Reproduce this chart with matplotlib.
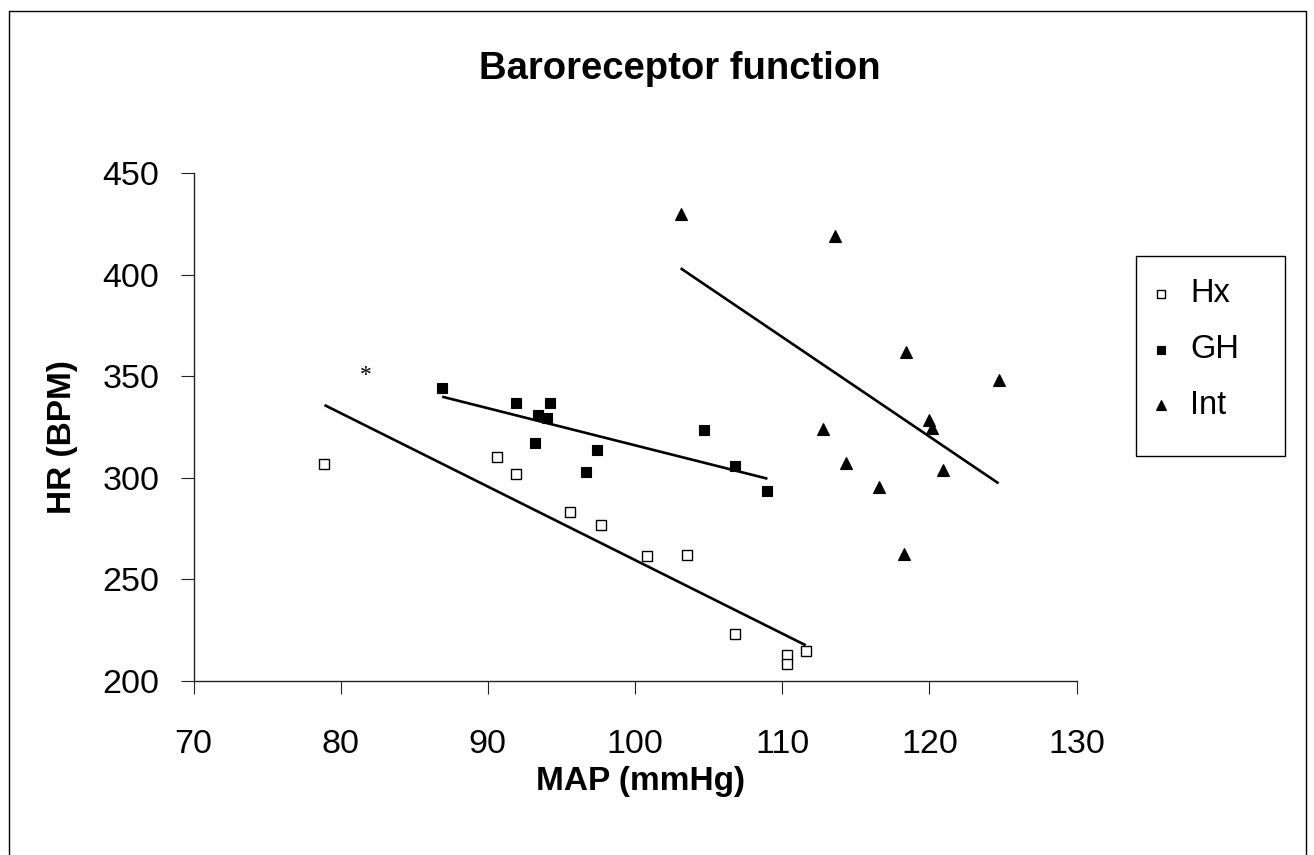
import numpy as np
import matplotlib
matplotlib.use("Agg")
import matplotlib.pyplot as plt
from matplotlib.lines import Line2D
from matplotlib.patches import Rectangle

plt.rcParams['font.family'] = ['Liberation Sans', 'DejaVu Sans']

# ---- data ----
hx_map = [78.9, 90.6, 91.9, 95.6, 97.7, 100.8, 103.5, 106.8, 110.3, 110.3, 111.6]
hx_hr = [307, 310, 302, 283, 277, 261.5, 262, 223, 213, 208.5, 215]

gh_map = [86.9, 91.9, 94.2, 93.4, 94.0, 93.2, 97.4, 96.7, 104.7, 106.8, 109.0]
gh_hr = [344.3, 336.6, 336.6, 330.8, 329.3, 316.9, 313.9, 302.9, 323.3, 305.9, 293.5]

int_map = [103.1, 113.6, 118.4, 120.0, 120.15, 112.8, 114.35, 120.9, 116.6, 118.3, 124.7]
int_hr = [430, 419, 362, 328.5, 324.4, 324, 307.3, 304, 295.5, 262.5, 348]

series_names = ["Hx", "GH", "Int"]
x_ticks = [70, 80, 90, 100, 110, 120, 130]
y_ticks = [200, 250, 300, 350, 400, 450]
star_pos = (81.7, 350.5)

W, H = 1314, 855
fig = plt.figure(figsize=(W / 100, H / 100), dpi=100)
fig.patch.set_facecolor('white')

def fx(px):
    return px / W

def fy(py):
    return 1 - py / H

ax = fig.add_axes([fx(193.5), fy(681), fx(1076.5) - fx(193.5), fy(173) - fy(681)])
ax.set_xlim(x_ticks[0], x_ticks[-1])
ax.set_ylim(y_ticks[0], y_ticks[-1])
ax.set_xticks(x_ticks)
ax.set_yticks(y_ticks)
for s in ['top', 'right']:
    ax.spines[s].set_visible(False)
for s in ['left', 'bottom']:
    ax.spines[s].set_linewidth(1.0)
    ax.spines[s].set_color('#222222')
ax.tick_params(axis='both', direction='out', length=9.5, width=0.8, color='#222222',
               labelsize=24.5)
ax.tick_params(axis='x', pad=25)
ax.tick_params(axis='y', pad=15)

styles = {
    "Hx": dict(marker='s', mfc='white', mec='black', mew=1.0, ms=7),
    "GH": dict(marker='s', mfc='black', mec='black', mew=0.8, ms=7),
    "Int": dict(marker='^', mfc='black', mec='black', mew=0.8, ms=8),
}
data = {"Hx": (hx_map, hx_hr), "GH": (gh_map, gh_hr), "Int": (int_map, int_hr)}

for name in series_names:
    xs, ys = np.array(data[name][0]), np.array(data[name][1])
    k, b = np.polyfit(xs, ys, 1)
    xl = np.array([xs.min(), xs.max()])
    ax.plot(xl, k * xl + b, color='black', lw=1.9, solid_capstyle='butt', zorder=2)
    ax.plot(xs, ys, ls='none', zorder=3, **styles[name])

ax.text(star_pos[0], star_pos[1], '*', fontsize=17, family=['Liberation Serif', 'DejaVu Serif'],
        ha='center', va='center')

# titles / labels
fig.text(fx(680), fy(79), "Baroreceptor function", fontsize=27.5, fontweight='bold',
         ha='center', va='baseline')
fig.text(fx(62), fy(437), "HR (BPM)", fontsize=24, fontweight='bold',
         ha='center', va='center', rotation=90)
fig.text(fx(640), fy(781), "MAP (mmHg)", fontsize=24, fontweight='bold',
         ha='center', va='center')

# legend box
fig.add_artist(Rectangle((fx(1136), fy(456)), fx(1285) - fx(1136), fy(256) - fy(456),
                         transform=fig.transFigure, fill=False, ec='black', lw=1.0))
rows = [294, 350, 405]
leg_styles = {
    "Hx": dict(marker='s', mfc='white', mec='black', mew=1.0, ms=5.5),
    "GH": dict(marker='s', mfc='black', mec='black', mew=0.8, ms=5.5),
    "Int": dict(marker='^', mfc='black', mec='black', mew=0.8, ms=6.5),
}
for name, ry in zip(series_names, rows):
    fig.add_artist(Line2D([fx(1161)], [fy(ry)], transform=fig.transFigure, ls='none',
                          **leg_styles[name]))
    fig.text(fx(1190), fy(ry), name, fontsize=23.5, ha='left', va='center')

# chart-area border
fig.add_artist(Line2D([fx(9), fx(9), fx(1306), fx(1306)],
                      [fy(860), fy(11.5), fy(11.5), fy(860)],
                      transform=fig.transFigure, color='black', lw=1.0))

fig.savefig("out.png", dpi=100, facecolor='white')
